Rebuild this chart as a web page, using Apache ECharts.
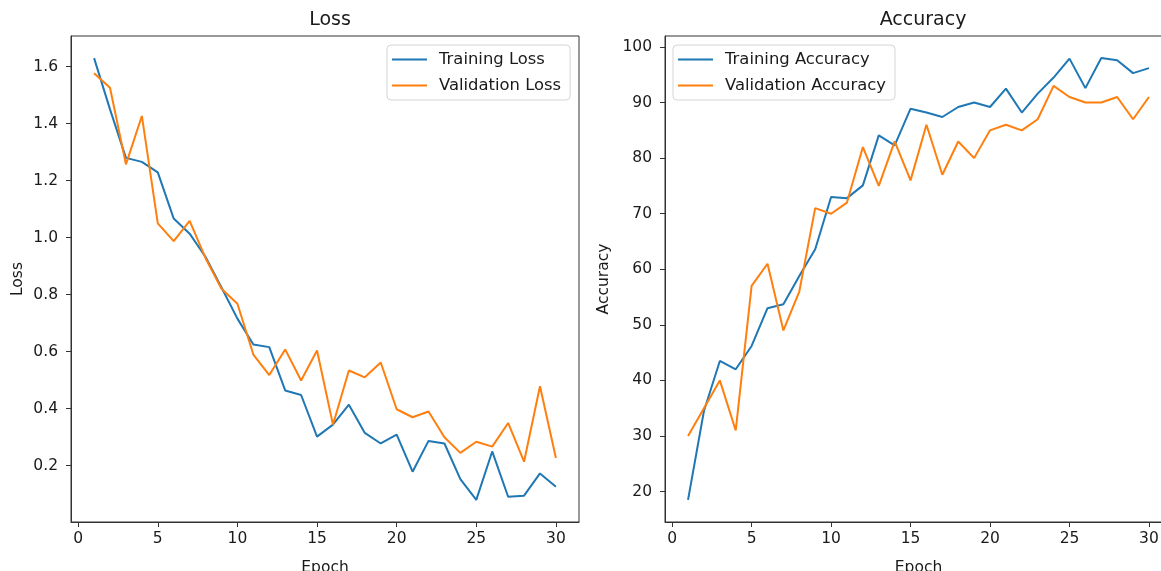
<!DOCTYPE html>
<html>
<head>
<meta charset="utf-8">
<script src="https://cdn.jsdelivr.net/npm/echarts@6/dist/echarts.min.js"></script>
<style>
html,body{margin:0;padding:0;background:#fff;}
#chart{width:1161px;height:571px;}
</style>
</head>
<body>
<div id="chart"></div>
<script>
// ---- data ----
const epochs = [1,2,3,4,5,6,7,8,9,10,11,12,13,14,15,16,17,18,19,20,21,22,23,24,25,26,27,28,29,30];
const trainLoss = [1.63,1.45,1.28,1.266,1.229,1.067,1.014,0.932,0.825,0.716,0.625,0.616,0.464,0.448,0.302,0.344,0.414,0.315,0.278,0.309,0.179,0.287,0.278,0.153,0.080,0.250,0.091,0.095,0.173,0.126];
const valLoss = [1.577,1.526,1.257,1.427,1.05,0.988,1.059,0.928,0.821,0.768,0.59,0.518,0.608,0.499,0.604,0.344,0.534,0.51,0.562,0.398,0.37,0.39,0.30,0.245,0.284,0.267,0.35,0.214,0.479,0.227];
const trainAcc = [18.5,34.5,43.5,42.0,46.2,53.0,53.7,58.8,63.6,73.0,72.8,75.1,84.1,82.3,88.9,88.2,87.4,89.2,90.0,89.2,92.5,88.2,91.6,94.5,97.9,92.6,98.0,97.6,95.3,96.2];
const valAcc = [30,35,40,31,57,61,49,56,71,70,72,82,75,83,76,86,77,83,80,85,86,85,87,93,91,90,90,91,87,91];
const xTicks = [0,5,10,15,20,25,30];
const lossTicks = [0.2,0.4,0.6,0.8,1.0,1.2,1.4,1.6];
const accTicks = [20,30,40,50,60,70,80,90,100];

// ---- helpers (matplotlib-like 5% margins) ----
function padRange(arrs){
  let lo=Infinity, hi=-Infinity;
  arrs.forEach(a=>a.forEach(v=>{lo=Math.min(lo,v);hi=Math.max(hi,v);}));
  const m=(hi-lo)*0.05;
  return [lo-m, hi+m];
}
const xr = padRange([epochs]);
const lr = padRange([trainLoss,valLoss]);
const ar = padRange([trainAcc,valAcc]);
const pairs = (xs,ys)=>xs.map((x,i)=>[x,ys[i]]);

const FONT = '"DejaVu Sans", sans-serif';
const TXT = '#1a1a1a';
const SPINE = '#333';
const BLUE = '#1f77b4', ORANGE = '#ff7f0e';

function xAxisDef(gi){
  return {
    type:'value', gridIndex:gi, min:xr[0], max:xr[1],
    name:'Epoch', nameLocation:'middle', nameGap:38,
    nameTextStyle:{fontFamily:FONT,fontSize:15.5,color:TXT},
    axisLine:{show:true,onZero:false,lineStyle:{color:SPINE,width:1}},
    axisTick:{show:true,length:5,customValues:xTicks,lineStyle:{color:SPINE,width:1}},
    axisLabel:{customValues:xTicks,fontFamily:FONT,fontSize:15.5,color:TXT,margin:9},
    splitLine:{show:false}
  };
}
function yAxisDef(gi,range,ticks,name,gap,fmt){
  return {
    type:'value', gridIndex:gi, min:range[0], max:range[1],
    name:name, nameLocation:'middle', nameGap:gap,
    nameTextStyle:{fontFamily:FONT,fontSize:15.5,color:TXT},
    axisLine:{show:true,onZero:false,lineStyle:{color:SPINE,width:1}},
    axisTick:{show:true,length:5,customValues:ticks,lineStyle:{color:SPINE,width:1}},
    axisLabel:{customValues:ticks,fontFamily:FONT,fontSize:15.5,color:TXT,margin:13,formatter:fmt},
    splitLine:{show:false}
  };
}
function legendDef(left,names){
  return {
    data:names, orient:'vertical', left:left, top:45,
    icon:'rect', itemWidth:35, itemHeight:2, itemGap:9,
    padding:[6,9,6,5],
    backgroundColor:'rgba(255,255,255,0.8)',
    borderColor:'#d5d5d5', borderWidth:1, borderRadius:4,
    textStyle:{fontFamily:FONT,fontSize:16.4,lineHeight:17,color:TXT,padding:[0,0,0,7]}
  };
}
function lineSeries(name,xi,yi,data,color){
  return {
    type:'line', name:name, xAxisIndex:xi, yAxisIndex:yi, data:data,
    symbol:'none', smooth:false, animation:false,
    lineStyle:{color:color,width:2}, itemStyle:{color:color}
  };
}

const chart = echarts.init(document.getElementById('chart'), null, {renderer:'canvas'});
chart.setOption({
  backgroundColor:'#fff',
  animation:false,
  title:[
    {text:'Loss', left:325, top:6, textAlign:'center', textStyle:{fontFamily:FONT,fontSize:19,fontWeight:'normal',color:TXT}},
    {text:'Accuracy', left:918, top:6, textAlign:'center', textStyle:{fontFamily:FONT,fontSize:19,fontWeight:'normal',color:TXT}}
  ],
  grid:[
    {left:71, top:36, width:508, height:486, show:true, borderColor:SPINE, borderWidth:1, backgroundColor:'transparent', outerBoundsMode:'none', containLabel:false},
    {left:665, top:36, width:507, height:486, show:true, borderColor:SPINE, borderWidth:1, backgroundColor:'transparent', outerBoundsMode:'none', containLabel:false}
  ],
  xAxis:[xAxisDef(0), xAxisDef(1)],
  yAxis:[
    yAxisDef(0,lr,lossTicks,'Loss',45,v=>v.toFixed(1)),
    yAxisDef(1,ar,accTicks,'Accuracy',53,v=>String(v))
  ],
  legend:[
    legendDef(387,['Training Loss','Validation Loss']),
    legendDef(673,['Training Accuracy','Validation Accuracy'])
  ],
  series:[
    lineSeries('Training Loss',0,0,pairs(epochs,trainLoss),BLUE),
    lineSeries('Validation Loss',0,0,pairs(epochs,valLoss),ORANGE),
    lineSeries('Training Accuracy',1,1,pairs(epochs,trainAcc),BLUE),
    lineSeries('Validation Accuracy',1,1,pairs(epochs,valAcc),ORANGE)
  ]
});
</script>
</body>
</html>
